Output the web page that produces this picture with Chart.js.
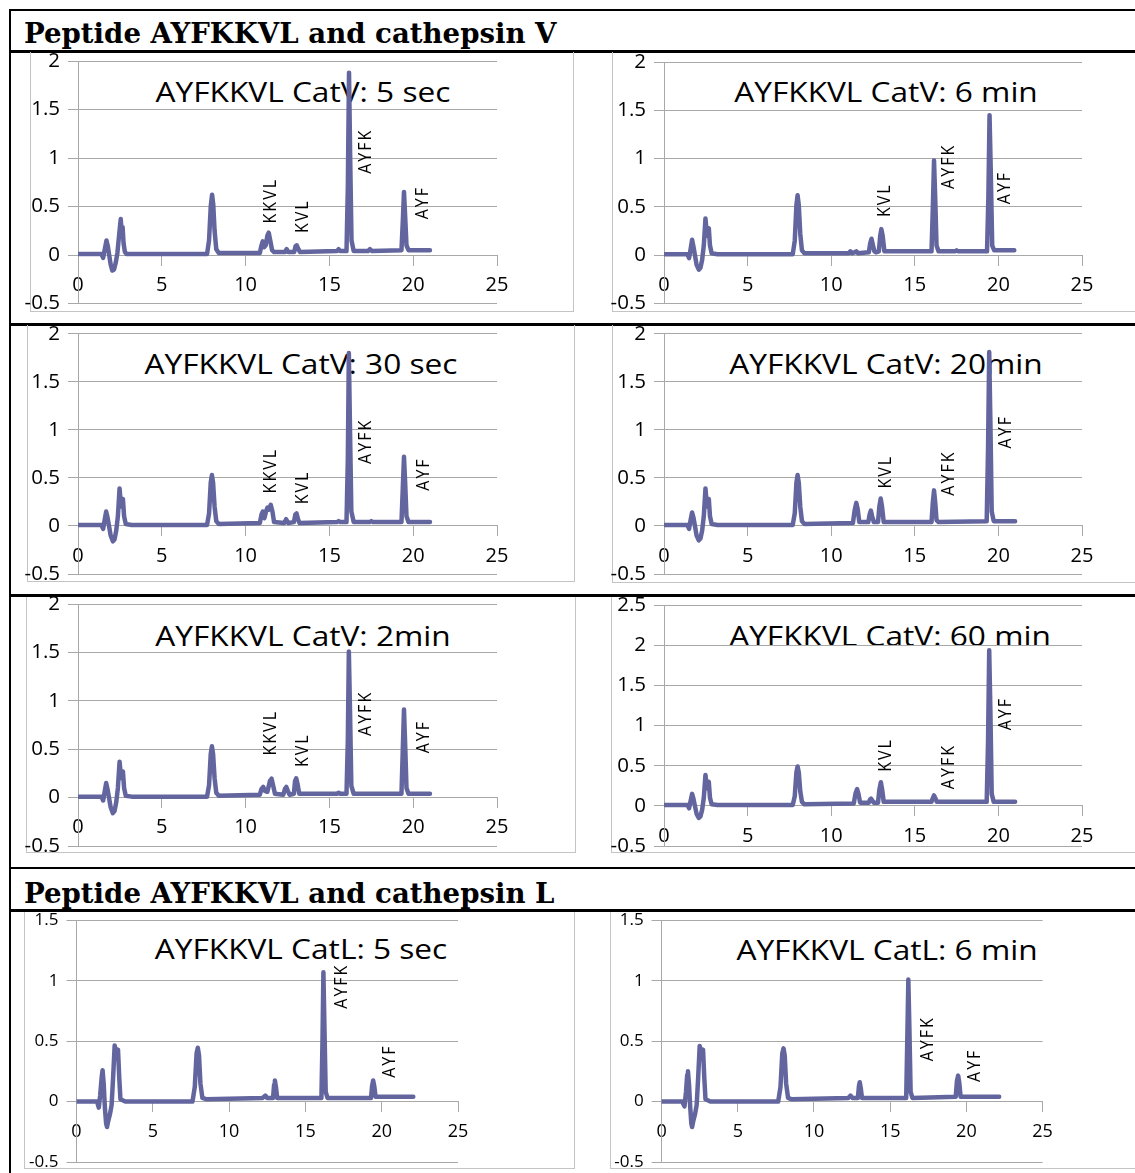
<!DOCTYPE html>
<html><head><meta charset="utf-8">
<script src="https://cdn.jsdelivr.net/npm/chart.js@4.4.1/dist/chart.umd.min.js"></script>
<style>
html,body{margin:0;padding:0;background:#fff;}
#page{position:relative;width:1135px;height:1173px;overflow:hidden;background:#fff;}
.rule{position:absolute;background:#000;}
.frame{position:absolute;border:0 solid #c4c4c4;box-sizing:border-box;}
.head{position:absolute;font-family:'DejaVu Serif',serif;font-weight:bold;font-size:27.6px;line-height:1;white-space:nowrap;color:#000;}
.ttl{position:absolute;font-family:'Open Sans',sans-serif;font-size:28px;line-height:1;white-space:nowrap;color:#000;transform:translate(-50%,-50%) scaleX(1.13);z-index:1;}
canvas{position:absolute;z-index:2;}
</style></head>
<body><div id="page"></div>
<script>
// ---------------- DATA ----------------
const headers = ['Peptide AYFKKVL and cathepsin V', 'Peptide AYFKKVL and cathepsin L'];
const xTicksMax = 25;
const titles = ['AYFKKVL CatV: 5 sec', 'AYFKKVL CatV: 6 min', 'AYFKKVL CatV: 30 sec', 'AYFKKVL CatV: 20min',
                'AYFKKVL CatV: 2min', 'AYFKKVL CatV: 60 min', 'AYFKKVL CatL: 5 sec', 'AYFKKVL CatL: 6 min'];
const yMaxes = [2, 2, 2, 2, 2, 2.5, 1.5, 1.5];

// [time (min), absorbance]
const catV5s = [[0,0.01],[1.4,0.01],[1.5,-0.03],[1.6,0.06],[1.7,0.15],[1.78,0.09],[1.86,0.0],[1.95,-0.1],[2.05,-0.16],[2.15,-0.15],[2.25,-0.08],[2.35,0.02],[2.45,0.2],[2.55,0.37],[2.61,0.22],[2.66,0.29],[2.72,0.12],[2.8,0.03],[2.9,0.01],[3.2,0.01],[5,0.01],[7.7,0.01],[7.82,0.15],[7.92,0.5],[8.0,0.62],[8.07,0.52],[8.15,0.25],[8.25,0.06],[8.4,0.02],[9,0.02],[10.85,0.02],[10.95,0.1],[11.02,0.14],[11.1,0.08],[11.2,0.1],[11.3,0.2],[11.38,0.23],[11.47,0.15],[11.58,0.05],[11.7,0.03],[12.35,0.03],[12.45,0.06],[12.55,0.03],[12.9,0.03],[12.98,0.09],[13.05,0.1],[13.15,0.06],[13.25,0.03],[15.45,0.04],[15.55,0.06],[15.65,0.04],[16.02,0.04],[16.1,0.7],[16.17,1.88],[16.24,1.0],[16.32,0.15],[16.45,0.04],[17.3,0.04],[17.42,0.06],[17.55,0.04],[19.3,0.05],[19.38,0.35],[19.45,0.65],[19.52,0.4],[19.6,0.1],[19.72,0.05],[21,0.05]];
const catV6m = [[0,0.01],[1.4,0.01],[1.5,-0.03],[1.6,0.07],[1.68,0.16],[1.76,0.09],[1.85,0.0],[1.95,-0.1],[2.08,-0.15],[2.18,-0.13],[2.28,-0.05],[2.38,0.1],[2.48,0.38],[2.56,0.22],[2.62,0.2],[2.68,0.28],[2.75,0.1],[2.85,0.02],[3.2,0.01],[5,0.01],[7.7,0.01],[7.82,0.15],[7.92,0.52],[7.99,0.62],[8.06,0.52],[8.15,0.22],[8.25,0.05],[8.4,0.02],[11.05,0.02],[11.15,0.04],[11.25,0.02],[11.4,0.03],[11.5,0.04],[11.6,0.02],[12.25,0.03],[12.33,0.12],[12.41,0.17],[12.5,0.1],[12.58,0.04],[12.68,0.03],[12.85,0.04],[12.93,0.2],[13.0,0.27],[13.08,0.2],[13.18,0.04],[16.0,0.04],[16.08,0.5],[16.15,0.98],[16.22,0.6],[16.3,0.1],[16.42,0.04],[17.4,0.04],[17.5,0.05],[17.6,0.04],[19.32,0.04],[19.4,0.6],[19.47,1.45],[19.54,0.9],[19.63,0.1],[19.75,0.05],[20.95,0.05]];
const catV30s = [[0,0.01],[1.4,0.01],[1.5,-0.03],[1.6,0.07],[1.68,0.15],[1.76,0.09],[1.85,0.0],[1.95,-0.1],[2.08,-0.16],[2.18,-0.14],[2.28,-0.05],[2.38,0.1],[2.48,0.39],[2.56,0.22],[2.62,0.2],[2.68,0.28],[2.75,0.1],[2.85,0.02],[3.2,0.01],[5,0.01],[7.7,0.01],[7.82,0.13],[7.92,0.45],[7.99,0.53],[8.06,0.45],[8.15,0.2],[8.25,0.05],[8.4,0.02],[10.85,0.03],[10.95,0.12],[11.03,0.15],[11.12,0.08],[11.22,0.15],[11.3,0.19],[11.38,0.17],[11.5,0.22],[11.6,0.15],[11.7,0.04],[12.3,0.03],[12.42,0.07],[12.54,0.03],[12.88,0.04],[12.97,0.12],[13.04,0.13],[13.13,0.07],[13.22,0.03],[15.45,0.04],[15.55,0.05],[15.65,0.04],[16.02,0.04],[16.1,0.7],[16.16,1.8],[16.23,1.0],[16.31,0.15],[16.45,0.04],[17.4,0.04],[17.5,0.05],[17.6,0.04],[19.3,0.04],[19.38,0.4],[19.45,0.72],[19.52,0.45],[19.6,0.1],[19.72,0.04],[21,0.04]];
const catV20m = [[0,0.01],[1.4,0.01],[1.5,-0.03],[1.6,0.07],[1.68,0.14],[1.76,0.09],[1.85,0.0],[1.95,-0.1],[2.08,-0.15],[2.18,-0.13],[2.28,-0.05],[2.38,0.1],[2.48,0.39],[2.56,0.22],[2.62,0.2],[2.68,0.28],[2.75,0.1],[2.85,0.02],[3.2,0.01],[5,0.01],[7.7,0.01],[7.82,0.13],[7.92,0.45],[7.99,0.53],[8.06,0.45],[8.15,0.2],[8.25,0.05],[8.4,0.02],[11.3,0.03],[11.4,0.16],[11.5,0.24],[11.58,0.18],[11.68,0.04],[12.22,0.04],[12.3,0.12],[12.37,0.16],[12.45,0.1],[12.55,0.04],[12.8,0.04],[12.88,0.2],[12.96,0.285],[13.04,0.2],[13.14,0.04],[16.0,0.04],[16.08,0.25],[16.15,0.37],[16.22,0.25],[16.3,0.06],[16.42,0.04],[19.3,0.05],[19.38,0.8],[19.45,1.81],[19.52,1.1],[19.6,0.15],[19.72,0.05],[21,0.05]];
const catV2m = [[0,0.01],[1.4,0.01],[1.5,-0.03],[1.6,0.07],[1.68,0.15],[1.76,0.09],[1.85,0.0],[1.95,-0.1],[2.08,-0.16],[2.18,-0.14],[2.28,-0.05],[2.38,0.1],[2.48,0.37],[2.56,0.22],[2.62,0.2],[2.68,0.27],[2.75,0.1],[2.85,0.02],[3.2,0.01],[5,0.01],[7.7,0.01],[7.82,0.13],[7.92,0.45],[7.99,0.53],[8.06,0.45],[8.15,0.2],[8.25,0.05],[8.4,0.02],[10.85,0.03],[10.95,0.09],[11.05,0.11],[11.15,0.07],[11.3,0.06],[11.45,0.17],[11.55,0.195],[11.65,0.12],[11.75,0.04],[12.25,0.03],[12.35,0.09],[12.43,0.11],[12.52,0.07],[12.62,0.03],[12.88,0.04],[12.95,0.17],[13.02,0.2],[13.1,0.14],[13.2,0.04],[15.45,0.04],[15.55,0.05],[15.65,0.04],[16.02,0.04],[16.1,0.6],[16.16,1.51],[16.23,0.9],[16.31,0.12],[16.45,0.04],[19.3,0.04],[19.38,0.5],[19.45,0.91],[19.52,0.55],[19.6,0.1],[19.72,0.04],[21,0.04]];
const catV60m = [[0,0.01],[1.4,0.01],[1.5,-0.03],[1.6,0.07],[1.68,0.15],[1.76,0.09],[1.85,0.0],[1.95,-0.1],[2.08,-0.15],[2.18,-0.13],[2.28,-0.05],[2.38,0.1],[2.48,0.385],[2.56,0.24],[2.62,0.22],[2.68,0.3],[2.75,0.1],[2.85,0.02],[3.2,0.01],[5,0.01],[7.7,0.01],[7.82,0.12],[7.92,0.42],[7.99,0.49],[8.06,0.42],[8.15,0.18],[8.25,0.05],[8.4,0.02],[11.35,0.03],[11.45,0.15],[11.55,0.21],[11.63,0.15],[11.73,0.04],[12.25,0.04],[12.32,0.08],[12.38,0.09],[12.45,0.07],[12.55,0.04],[12.8,0.04],[12.88,0.2],[12.97,0.295],[13.05,0.2],[13.14,0.05],[16.0,0.05],[16.08,0.1],[16.15,0.13],[16.22,0.1],[16.32,0.05],[19.3,0.05],[19.38,0.8],[19.45,1.94],[19.52,1.2],[19.6,0.15],[19.72,0.05],[21,0.05]];
const catL5s = [[0,0.0],[1.35,0.0],[1.46,-0.05],[1.55,0.05],[1.65,0.2],[1.71,0.26],[1.78,0.15],[1.86,-0.05],[1.94,-0.18],[2.0,-0.21],[2.08,-0.16],[2.2,-0.1],[2.3,-0.03],[2.4,0.2],[2.5,0.465],[2.58,0.42],[2.64,0.38],[2.72,0.43],[2.8,0.2],[2.88,0.02],[3.2,0.0],[5,0.0],[7.6,0.0],[7.75,0.12],[7.87,0.4],[7.95,0.445],[8.03,0.38],[8.12,0.15],[8.25,0.03],[8.5,0.02],[12.2,0.03],[12.37,0.05],[12.5,0.03],[12.88,0.03],[12.95,0.14],[13.0,0.175],[13.07,0.12],[13.15,0.03],[16.05,0.03],[16.12,0.5],[16.18,1.07],[16.25,0.6],[16.33,0.08],[16.45,0.03],[19.3,0.03],[19.37,0.13],[19.44,0.175],[19.51,0.13],[19.6,0.04],[22.07,0.04]];
const catL6m = [[0,0.0],[1.35,0.0],[1.5,-0.04],[1.6,0.08],[1.68,0.22],[1.73,0.25],[1.8,0.14],[1.88,-0.05],[1.95,-0.18],[2.0,-0.21],[2.08,-0.16],[2.2,-0.1],[2.3,-0.03],[2.4,0.2],[2.5,0.46],[2.58,0.42],[2.64,0.38],[2.72,0.43],[2.8,0.2],[2.88,0.02],[3.2,0.0],[5,0.0],[7.65,0.0],[7.8,0.12],[7.92,0.4],[8.0,0.44],[8.08,0.38],[8.17,0.15],[8.3,0.03],[8.5,0.02],[12.25,0.03],[12.4,0.05],[12.52,0.03],[12.88,0.03],[12.95,0.13],[13.0,0.16],[13.07,0.11],[13.15,0.03],[16.05,0.03],[16.12,0.5],[16.19,1.01],[16.26,0.6],[16.34,0.08],[16.46,0.03],[19.3,0.04],[19.38,0.17],[19.46,0.215],[19.53,0.16],[19.62,0.04],[22.15,0.04]];
const traces = [catV5s, catV6m, catV30s, catV20m, catV2m, catV60m, catL5s, catL6m];

// peak annotations: [text, time, absorbance of label centre]
const peaksV5s  = [['KKVL',11.53,0.56],['KVL',13.42,0.40],['AYFK',17.14,1.07],['AYF',20.58,0.54]];
const peaksV6m  = [['KVL',13.2,0.57],['AYFK',17.05,0.92],['AYF',20.4,0.70]];
const peaksV30s = [['KKVL',11.5,0.575],['KVL',13.4,0.40],['AYFK',17.15,0.88],['AYF',20.6,0.54]];
const peaksV20m = [['KVL',13.24,0.565],['AYFK',17.05,0.55],['AYF',20.42,0.98]];
const peaksV2m  = [['KKVL',11.5,0.67],['KVL',13.4,0.49],['AYFK',17.15,0.87],['AYF',20.6,0.63]];
const peaksV60m = [['KVL',13.24,0.635],['AYFK',17.05,0.49],['AYF',20.42,1.15]];
const peaksL5s  = [['AYFK',17.38,0.955],['AYF',20.52,0.335]];
const peaksL6m  = [['AYFK',17.47,0.52],['AYF',20.58,0.30]];
const peakSets = [peaksV5s, peaksV6m, peaksV30s, peaksV20m, peaksV2m, peaksV60m, peaksL5s, peaksL6m];

// ---------------- LAYOUT / STYLE ----------------
const LINE = '#63669e', GRID = '#a8a8a8';
const layoutBoxes = [
  {col:0, plot:[78,497,61,303.5],   title:[303,91],  frame:[30,574,52,312],   yf:20.5, xf:20, xpad:8},
  {col:1, plot:[664,1082,62,303.5], title:[886,91],  frame:[612,1200,52,312], yf:20.5, xf:20, xpad:8},
  {col:0, plot:[78,497,333.7,574],  title:[301,363], frame:[27,575,325,582],  yf:20.5, xf:20, xpad:8},
  {col:1, plot:[664,1082,333.7,574],title:[886,363], frame:[612,1200,325,583],yf:20.5, xf:20, xpad:8},
  {col:0, plot:[78,497,604,846],    title:[303,635], frame:[26,576,597,853],  yf:20.5, xf:20, xpad:8},
  {col:1, plot:[664,1082,605.3,846],title:[890,635], frame:[611,1200,597,853],yf:20.5, xf:20, xpad:8},
  {col:0, plot:[76.5,458,920.3,1162],  title:[301,948], frame:[24,575,912,1169], yf:17, xf:18, xpad:9},
  {col:1, plot:[661.6,1042.6,920.3,1162],title:[887,949], frame:[610,1200,912,1169], yf:17, xf:18, xpad:9}
];
const rules = [[9,9,2000,2],[9,50,2000,3],[9,323,2000,2.5],[9,594,2000,2.5],[9,866.5,2000,2.5],[9,909,2000,3],[9,9,2,2000]];
const headPos = [[24,20],[24,879.7]];

const page = document.getElementById('page');
function el(tag, cls, css, text){ const e=document.createElement(tag); if(cls) e.className=cls; Object.assign(e.style, css||{}); if(text!==undefined) e.textContent=text; page.appendChild(e); return e; }

rules.forEach(r => el('div','rule',{left:r[0]+'px',top:r[1]+'px',width:r[2]+'px',height:r[3]+'px'}));
headers.forEach((h,i)=> el('div','head',{left:headPos[i][0]+'px',top:headPos[i][1]+'px'}, h));

function peakPlugin(list){
  return { id:'peaks', afterDatasetsDraw(chart){
    const ctx=chart.ctx, xs=chart.scales.x, ys=chart.scales.y;
    ctx.save();
    ctx.fillStyle='#000';
    ctx.font='16px "Open Sans"';
    try{ ctx.letterSpacing='2px'; }catch(e){}
    ctx.textAlign='center'; ctx.textBaseline='middle';
    list.forEach(p=>{
      ctx.save();
      ctx.translate(xs.getPixelForValue(p[1]), ys.getPixelForValue(p[2]));
      ctx.rotate(-Math.PI/2);
      ctx.scale(1, 1.15);
      ctx.fillText(p[0],0,0);
      ctx.restore();
    });
    ctx.restore();
  }};
}

layoutBoxes.forEach((b,i)=>{
  const f=b.frame;
  el('div','frame',{left:f[0]+'px',top:f[2]+'px',width:(f[1]-f[0])+'px',height:(f[3]-f[2])+'px',
     borderLeftWidth:'1px',borderBottomWidth:'1px',borderRightWidth: b.col===0?'1px':'0'});
  el('div','ttl',{left:b.title[0]+'px',top:b.title[1]+'px'}, titles[i]);
  const [L,R,T,B]=b.plot;
  const cx0 = b.col===0 ? 12 : 596, cx1 = b.col===0 ? 588 : 1135;
  const cy0 = Math.round(T)-26, cy1 = Math.round(B)+26;
  const cv=document.createElement('canvas');
  cv.width=cx1-cx0; cv.height=cy1-cy0;
  Object.assign(cv.style,{left:cx0+'px',top:cy0+'px',width:(cx1-cx0)+'px',height:(cy1-cy0)+'px'});
  page.appendChild(cv);
  const yW = L-cx0;
  new Chart(cv,{
    type:'line',
    data:{datasets:[{data:traces[i].map(p=>({x:p[0],y:p[1]})), borderColor:LINE, borderWidth:4.5, pointRadius:0,
      tension:0, borderJoinStyle:'round', borderCapStyle:'round', fill:false}]},
    options:{
      responsive:false, animation:false, devicePixelRatio:1, events:[],
      layout:{padding:{left:0,right:cx1-R,top:T-cy0,bottom:cy1-B}},
      plugins:{legend:{display:false},tooltip:{enabled:false},title:{display:false}},
      scales:{
        x:{type:'linear',min:0,max:xTicksMax,position:{y:0},
           ticks:{stepSize:5,autoSkip:false,maxRotation:0,padding:b.xpad,color:'#000',font:{family:'Open Sans',size:b.xf},callback:v=>String(v)},
           grid:{drawOnChartArea:false,drawTicks:true,tickLength:10,color:GRID},
           border:{display:true,color:GRID}},
        y:{type:'linear',min:-0.5,max:yMaxes[i],position:'left',afterFit:s=>{s.width=yW;},
           ticks:{stepSize:0.5,padding:8,color:'#000',font:{family:'Open Sans',size:b.yf},callback:v=>String(v)},
           grid:{color:GRID,tickLength:10},
           border:{color:GRID}}
      }
    },
    plugins:[peakPlugin(peakSets[i])]
  });
});
</script>
</body></html>
